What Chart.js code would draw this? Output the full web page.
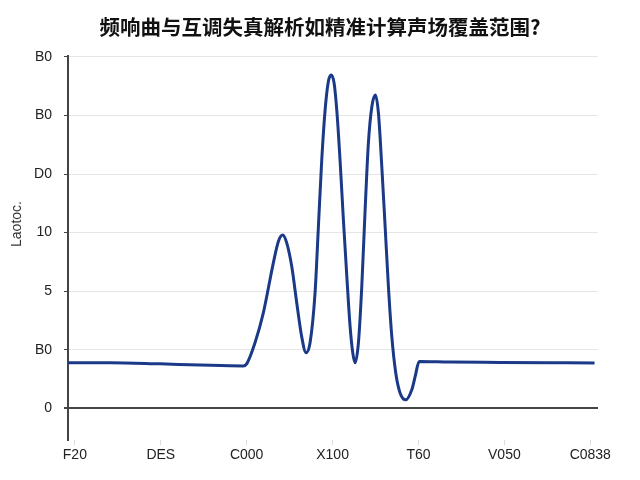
<!DOCTYPE html>
<html>
<head>
<meta charset="utf-8">
<script src="https://cdn.jsdelivr.net/npm/chart.js@4"></script>
<style>
  html, body { margin:0; padding:0; background:#fff; }
  #wrap { width:640px; height:480px; }
</style>
</head>
<body>
<div id="wrap"><canvas id="chart" width="640" height="480"></canvas></div>
<script>
// tick labels as printed on the picture
const xLabels = ['F20', 'DES', 'C000', 'X100', 'T60', 'V050', 'C0838'];
const yLabels = ['0', 'B0', '5', '10', 'D0', 'B0', 'B0'];
const titleText = '频响曲与互调失真解析如精准计算声场覆盖范围?';

// curve (x and y both in tick units)
const freqX = [-0.08, 0.41, 0.99, 1.46, 1.96, 2.000, 2.097, 2.194, 2.310, 2.369, 2.420, 2.467, 2.525,
  2.583, 2.641, 2.691, 2.738, 2.796, 2.835, 2.874, 2.913, 2.951, 2.983, 3.018, 3.049, 3.087, 3.126,
  3.166, 3.204, 3.235, 3.262, 3.301, 3.340, 3.379, 3.417, 3.457, 3.499, 3.534, 3.573, 3.612, 3.650,
  3.690, 3.736, 3.787, 3.853, 3.923, 3.961, 4.008, 4.37, 4.95, 5.53, 6.05];
const level = [0.78, 0.78, 0.76, 0.74, 0.725, 0.76, 1.12, 1.63, 2.48, 2.85, 2.96, 2.82, 2.42,
  1.80, 1.22, 0.95, 1.12, 1.97, 3.10, 4.24, 5.09, 5.58, 5.69, 5.55, 5.09, 4.24, 3.22,
  2.25, 1.40, 0.95, 0.78, 1.12, 2.08, 3.39, 4.53, 5.15, 5.35, 5.04, 4.13, 3.10, 2.08,
  1.22, 0.60, 0.26, 0.145, 0.32, 0.54, 0.80, 0.79, 0.785, 0.78, 0.776];

const tickFont = { family: '"Liberation Sans", Arial, sans-serif', size: 14 };

// title centred on the full canvas, and the rotated y caption
const labels = {
  id: 'labels',
  afterDraw(chart){
    const c = chart.ctx;
    c.save();
    c.font = 'bold 20.5px "Noto Sans CJK SC", sans-serif';
    c.fillStyle = '#111';
    c.textAlign = 'center';
    c.textBaseline = 'middle';
    c.fillText(titleText, 320, 27);
    c.translate(17, 224);
    c.rotate(-Math.PI / 2);
    c.font = '14px "Liberation Sans", Arial, sans-serif';
    c.fillStyle = '#333';
    c.fillText('Laotoc.', 0, 0);
    c.restore();
  }
};

new Chart(document.getElementById('chart'), {
  type: 'line',
  data: { datasets: [{
    data: freqX.map((x, i) => ({ x, y: level[i] })),
    borderColor: '#1a3a87',
    borderWidth: 3,
    pointRadius: 0,
    cubicInterpolationMode: 'monotone',
    fill: false
  }] },
  options: {
    responsive: false,
    animation: false,
    devicePixelRatio: 1,
    layout: { padding: { left: 0, right: 42, top: 56, bottom: 0 } },
    plugins: {
      legend: { display: false },
      tooltip: { enabled: false },
      title: { display: false }
    },
    scales: {
      x: {
        type: 'linear',
        min: -0.08, max: 6.09,
        afterBuildTicks: s => { s.ticks = xLabels.map((_, i) => ({ value: i })); },
        afterFit: s => { s.height = 40; },
        ticks: { callback: v => xLabels[v], color: '#222', font: tickFont, padding: 2, maxRotation: 0 },
        grid: { drawOnChartArea: false, drawTicks: true, tickLength: 5, tickColor: '#ddd' },
        border: { display: false }
      },
      y: {
        min: -0.54, max: 6.015,
        afterBuildTicks: s => { s.ticks = yLabels.map((_, i) => ({ value: i })); },
        afterFit: s => { s.width = 68; },
        ticks: { callback: v => yLabels[v], color: '#222', font: tickFont, padding: 12 },
        grid: {
          color: c => c.tick && c.tick.value === 0 ? '#444' : '#e6e6e6',
          lineWidth: c => c.tick && c.tick.value === 0 ? 2 : 1,
          tickColor: '#444',
          tickLength: 4
        },
        border: { display: true, color: '#444', width: 2 }
      }
    }
  },
  plugins: [labels]
});
</script>
</body>
</html>
